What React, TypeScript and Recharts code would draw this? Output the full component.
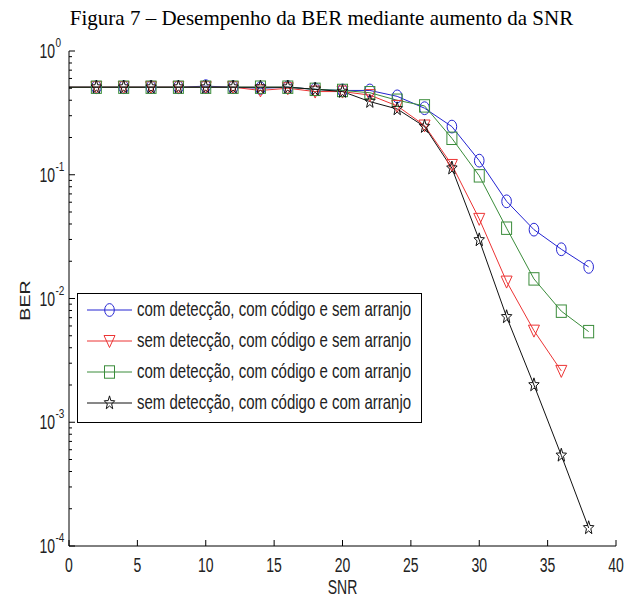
import React from 'react';
import { LineChart, Line, XAxis, YAxis, Legend } from 'recharts';

// SNR (dB) sampled every 2 dB
const snr = [0, 2, 4, 6, 8, 10, 12, 14, 16, 18, 20, 22, 24, 26, 28, 30, 32, 34, 36, 38];

// BER curves
const comDetSemArr = [0.51, 0.51, 0.51, 0.51, 0.51, 0.52, 0.51, 0.5, 0.51, 0.49, 0.48, 0.48, 0.43, 0.345, 0.245, 0.13, 0.061, 0.036, 0.025, 0.018];
const semDetSemArr = [0.51, 0.51, 0.51, 0.51, 0.51, 0.51, 0.51, 0.48, 0.5, 0.47, 0.47, 0.44, 0.36, 0.25, 0.12, 0.044, 0.0137, 0.0055, 0.0026];
const comDetComArr = [0.51, 0.51, 0.51, 0.51, 0.51, 0.51, 0.51, 0.51, 0.51, 0.49, 0.48, 0.46, 0.4, 0.36, 0.197, 0.098, 0.037, 0.0144, 0.0079, 0.0054];
const semDetComArr = [0.51, 0.51, 0.51, 0.51, 0.51, 0.51, 0.51, 0.51, 0.51, 0.49, 0.47, 0.39, 0.34, 0.245, 0.113, 0.0297, 0.0071, 0.002, 0.00054, 0.00014];

const xTicks = [0, 5, 10, 15, 20, 25, 30, 35, 40];
const yDecades = [0.0001, 0.001, 0.01, 0.1, 1];
const yTicks: number[] = [];
yDecades.forEach((d, i) => {
  yTicks.push(d);
  if (i < yDecades.length - 1) for (let k = 2; k <= 9; k++) yTicks.push(+(d * k).toPrecision(3));
});

const series = [
  { key: 'a', name: 'com detecção, com código e sem arranjo', color: '#2424d2', marker: 'circle' },
  { key: 'b', name: 'sem detecção, com código e sem arranjo', color: '#ec3434', marker: 'triangle' },
  { key: 'c', name: 'com detecção, com código e com arranjo', color: '#3a8c3a', marker: 'square' },
  { key: 'd', name: 'sem detecção, com código e com arranjo', color: '#111111', marker: 'star' },
];

const data = snr.map((s, i) => ({
  snr: s,
  a: comDetSemArr[i],
  b: semDetSemArr[i],
  c: comDetComArr[i],
  d: semDetComArr[i],
}));

const SANS = "'Liberation Sans', Arial, sans-serif";
const STRETCH = 1.4;

const Marker = ({ type, cx, cy, color }: any) => {
  const common = { fill: 'none', stroke: color, strokeWidth: 1 };
  if (type === 'circle') return <ellipse cx={cx} cy={cy} rx={4.8} ry={6.4} {...common} />;
  if (type === 'square') return <rect x={cx - 5} y={cy - 6.2} width={10} height={12.4} {...common} />;
  if (type === 'triangle')
    return <polygon points={`${cx - 5.5},${cy - 5.5} ${cx + 5.5},${cy - 5.5} ${cx},${cy + 6.5}`} {...common} />;
  const pts: string[] = [];
  for (let k = 0; k < 10; k++) {
    const r = k % 2 === 0 ? 5.5 : 2.3;
    const a = -Math.PI / 2 + (k * Math.PI) / 5;
    pts.push(`${cx + r * Math.cos(a)},${cy + r * Math.sin(a) * 1.3}`);
  }
  return <polygon points={pts.join(' ')} {...common} />;
};

const makeDot = (type: string, color: string) => (p: any) => {
  const k = `${type}-${p.index}`;
  if (p.cy == null || p.payload?.snr === 0) return <g key={k} />;
  return <Marker key={k} type={type} cx={p.cx} cy={p.cy} color={color} />;
};

const isDecade = (v: number) => yDecades.some((d) => Math.abs(d - v) / d < 1e-6);

const LeftTick = ({ x, y, payload }: any) => {
  const v = payload.value;
  const major = isDecade(v);
  const exp = Math.round(Math.log10(v));
  return (
    <g>
      <line x1={x} x2={x + (major ? 6 : 3)} y1={y} y2={y} stroke="#000" />
      {major && (
        <>
          <text transform={`translate(${x - 14},${y + 7}) scale(1,${STRETCH})`} textAnchor="end" fontSize={14} fontFamily={SANS} fill="#222">
            10
          </text>
          <text transform={`translate(${x - 13.5},${y - 4}) scale(1,1.3)`} fontSize={10} fontFamily={SANS} fill="#222">
            {exp === 0 ? '0' : `-${-exp}`}
          </text>
        </>
      )}
    </g>
  );
};

const RightTick = ({ x, y, payload }: any) => {
  const major = isDecade(payload.value);
  return <line x1={x - (major ? 6 : 3)} x2={x} y1={y} y2={y} stroke="#000" />;
};

const BottomTick = ({ x, y, payload }: any) => (
  <g>
    <line x1={x} x2={x} y1={y} y2={y - 6} stroke="#000" />
    <text transform={`translate(${x},${y + 26}) scale(1,${STRETCH})`} textAnchor="middle" fontSize={14} fontFamily={SANS} fill="#222">
      {payload.value}
    </text>
  </g>
);

const TopTick = ({ x, y }: any) => <line x1={x} x2={x} y1={y} y2={y + 6} stroke="#000" />;

const SnrLabel = ({ viewBox }: any) => (
  <text transform={`translate(${viewBox.x + viewBox.width / 2},${viewBox.y + 48}) scale(1,${STRETCH})`} textAnchor="middle" fontSize={14} fontFamily={SANS} fill="#222">
    SNR
  </text>
);

const BerLabel = ({ viewBox }: any) => (
  <text transform={`translate(30,${viewBox.y + viewBox.height / 2 + 2}) rotate(-90) scale(${STRETCH},1)`} textAnchor="middle" fontSize={14} fontFamily={SANS} fill="#222">
    BER
  </text>
);

// legend rows follow the plotting order, not recharts' sorted payload
const LegendBox = () => (
  <div style={{ width: 345, height: 130, border: '1px solid #000', boxSizing: 'border-box', background: '#fff' }}>
    <svg width={343} height={128}>
      {series.map((s, i) => {
        const cy = 16 + i * 31;
        return (
          <g key={s.key}>
            <line x1={9} x2={54} y1={cy} y2={cy} stroke={s.color} strokeWidth={1} />
            <Marker type={s.marker} cx={31.5} cy={cy} color={s.color} />
            <text transform={`translate(59,${cy + 6}) scale(1,${STRETCH})`} fontSize={15} fontFamily={SANS} fill="#222">
              {s.name}
            </text>
          </g>
        );
      })}
    </svg>
  </div>
);

export default function App() {
  return (
    <div style={{ position: 'absolute', left: 0, top: 0, width: 634, height: 600, background: '#fff' }}>
      <svg width={634} height={40} style={{ position: 'absolute', left: 0, top: 0 }}>
        <text x={321.5} y={25} textAnchor="middle" fontSize={21} fontFamily="'Liberation Serif', 'Times New Roman', serif" fill="#000">
          Figura 7 – Desempenho da BER mediante aumento da SNR
        </text>
      </svg>
      <LineChart width={634} height={600} data={data} margin={{ top: 51, right: 18, bottom: 0, left: 0 }}>
        <XAxis
          dataKey="snr"
          type="number"
          domain={[0, 40]}
          ticks={xTicks}
          interval={0}
          height={54}
          tickSize={0}
          tickMargin={0}
          tickLine={false}
          axisLine={{ stroke: '#000' }}
          tick={<BottomTick />}
          label={(p: any) => <SnrLabel {...p} />}
        />
        <XAxis
          xAxisId="top"
          orientation="top"
          dataKey="snr"
          type="number"
          domain={[0, 40]}
          ticks={xTicks}
          interval={0}
          height={0}
          tickSize={0}
          tickMargin={0}
          tickLine={false}
          axisLine={{ stroke: '#000' }}
          tick={<TopTick />}
        />
        <YAxis
          yAxisId="left"
          scale="log"
          domain={[0.0001, 1]}
          allowDataOverflow
          ticks={yTicks}
          interval={0}
          width={69}
          tickSize={0}
          tickMargin={0}
          tickLine={false}
          axisLine={{ stroke: '#000' }}
          tick={<LeftTick />}
          label={(p: any) => <BerLabel {...p} />}
        />
        <YAxis
          yAxisId="right"
          orientation="right"
          scale="log"
          domain={[0.0001, 1]}
          allowDataOverflow
          ticks={yTicks}
          interval={0}
          width={0}
          tickSize={0}
          tickMargin={0}
          tickLine={false}
          axisLine={{ stroke: '#000' }}
          tick={<RightTick />}
        />
        <Legend
          layout="vertical"
          align="center"
          verticalAlign="middle"
          wrapperStyle={{ left: 77, top: 293, width: 345, height: 130 }}
          content={<LegendBox />}
        />
        {series.map((s) => (
          <Line
            key={s.key}
            yAxisId="left"
            dataKey={s.key}
            name={s.name}
            type="linear"
            stroke={s.color}
            strokeWidth={1}
            dot={makeDot(s.marker, s.color)}
            activeDot={false}
            isAnimationActive={false}
          />
        ))}
      </LineChart>
    </div>
  );
}
